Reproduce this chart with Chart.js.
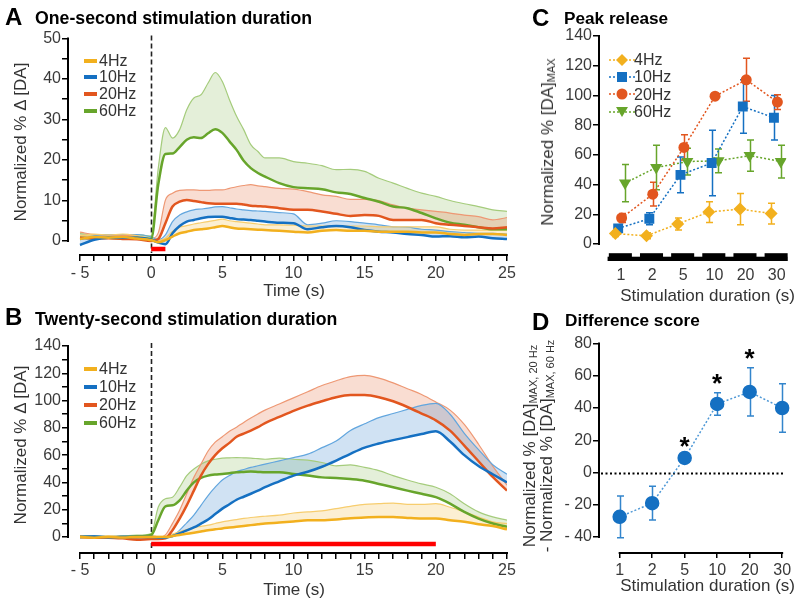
<!DOCTYPE html>
<html>
<head>
<meta charset="utf-8">
<title>Dopamine release and stimulation duration</title>
<script src="https://cdn.jsdelivr.net/npm/chart.js@4.4.1/dist/chart.umd.min.js"></script>
<style>
  body { margin: 0; background: #fff; }
  #fig { position: relative; width: 800px; height: 601px; overflow: hidden;
         font-family: "Liberation Sans", Arial, sans-serif; color: #333; }
  #fig canvas { position: absolute; }
  .txt { position: absolute; white-space: nowrap; line-height: 1; }
  .bold { font-weight: bold; color: #000; }
  .rot { transform: translate(-50%, -50%) rotate(-90deg); }
  .rot sub { font-size: 11px; vertical-align: -2px; }
</style>
</head>
<body>
<div id="fig">
  <canvas id="chartA" width="520" height="300" style="left:0;top:0"></canvas>
  <canvas id="chartB" width="520" height="301" style="left:0;top:300px"></canvas>
  <canvas id="chartC" width="280" height="300" style="left:520px;top:0"></canvas>
  <canvas id="chartD" width="280" height="301" style="left:520px;top:300px"></canvas>
</div>
<script>
// ---- data ----
const SERIES = ["4Hz", "10Hz", "20Hz", "60Hz"];
const TIME = [-5, -4, -3, -2, -1, 0, 0.5, 1, 1.5, 2, 2.5, 3, 3.5, 4, 4.5, 5, 5.5, 6, 6.5, 7, 7.5, 8,
  9, 10, 11, 12, 13, 14, 15, 16, 17, 18, 19, 20, 21, 22, 23, 24, 25];

// one-second stimulation: mean trace and upper SEM edge
const A_4HZ_MEAN = [0.5, 1.0, 0.8, 1.0, 0.6, 0.2, -0.3, 0.2, 1.1, 1.9, 2.3, 2.7, 2.9, 3.1, 3.4, 3.7, 3.4, 3.1, 3.0, 2.9, 2.8, 2.7,
  2.5, 2.3, 2.1, 2.5, 2.7, 2.5, 2.5, 2.3, 2.3, 2.3, 2.1, 2.1, 1.7, 1.5, 1.7, 1.7, 1.5];
const A_4HZ_UPPER = [1.3, 1.7, 1.5, 1.7, 1.3, 0.6, 0.2, 0.7, 2.4, 3.4, 3.8, 4.2, 4.5, 4.8, 5.1, 5.4, 5.0, 4.8, 4.6, 4.4, 4.2, 4.0,
  4.0, 3.9, 3.7, 3.7, 3.7, 3.7, 3.7, 3.5, 3.5, 3.5, 3.5, 3.5, 2.9, 2.7, 2.7, 2.7, 2.7];
const A_10HZ_MEAN = [-1.0, 0.3, 0.8, 0.8, 0.8, 0.3, -0.4, -0.8, 1.9, 3.7, 4.8, 5.2, 5.6, 5.9, 6.0, 6.0, 5.7, 5.4, 5.3, 5.2, 5.0, 4.8,
  4.5, 4.4, 2.9, 3.4, 3.7, 3.4, 2.7, 2.3, 2.1, 1.7, 1.5, 1.1, 1.2, 0.9, 1.1, 0.7, 0.5];
const A_10HZ_UPPER = [0.3, 1.3, 1.6, 1.6, 1.6, 1.0, 0.3, 1.5, 4.8, 6.4, 7.2, 7.7, 7.9, 8.1, 8.4, 8.5, 8.2, 7.9, 7.7, 7.5, 7.4, 7.3,
  7.0, 6.7, 4.0, 4.4, 5.0, 4.8, 4.4, 4.0, 3.5, 3.4, 2.9, 2.7, 2.3, 2.1, 1.9, 1.9, 1.7];
const A_20HZ_MEAN = [0.8, 0.6, 0.7, 0.5, 0.4, 0.0, 0.5, 4.4, 8.5, 9.7, 10.1, 9.9, 9.6, 9.3, 9.2, 9.2, 9.2, 9.2, 9.0, 8.7, 8.6, 8.5,
  8.1, 7.7, 7.7, 7.3, 6.7, 6.2, 6.4, 6.2, 5.2, 5.2, 5.2, 4.4, 4.0, 3.7, 3.4, 3.1, 3.4];
const A_20HZ_UPPER = [2.2, 1.6, 1.5, 1.4, 1.2, 0.6, 2.0, 10.1, 11.8, 12.5, 12.6, 12.6, 12.5, 12.5, 12.6, 12.6, 13.0, 13.4, 13.7, 13.9, 13.6, 13.4,
  13.0, 12.8, 12.2, 11.4, 11.0, 10.3, 10.3, 10.0, 8.9, 8.1, 7.7, 7.3, 6.9, 6.4, 6.0, 5.2, 5.8];
const A_60HZ_MEAN = [0.8, 0.7, 0.8, 0.6, 0.8, 0.5, 14.0, 21.5, 21.6, 23.2, 25.0, 25.6, 25.4, 26.6, 27.6, 26.7, 24.6, 22.5, 19.8, 18.0, 16.8, 15.9,
  14.3, 13.3, 13.0, 12.8, 12.0, 11.6, 10.6, 9.7, 8.5, 8.1, 6.9, 5.6, 4.5, 4.0, 3.4, 2.9, 2.9];
const A_60HZ_UPPER = [1.8, 1.5, 1.6, 1.4, 1.6, 1.2, 18.0, 28.0, 25.4, 27.5, 32.4, 35.3, 36.1, 39.0, 41.6, 39.4, 34.9, 30.8, 27.5, 23.8, 22.1, 20.5,
  20.5, 19.6, 19.2, 18.6, 17.6, 17.7, 17.2, 15.5, 14.3, 13.0, 11.8, 11.0, 10.0, 9.2, 8.5, 7.7, 7.3];

// twenty-second stimulation
const B_4HZ_MEAN = [0, -0.5, 0, -0.3, 0, 0, 0, 0, 0.7, 1.5, 2.3, 3.1, 4.0, 5.0, 5.6, 6.3, 6.9, 7.5, 8.1, 8.7, 9.3, 9.9,
  10.6, 11.4, 12.3, 12.3, 12.8, 13.8, 14.3, 14.7, 14.7, 14.0, 13.5, 13.5, 12.3, 11.1, 9.4, 8.0, 5.6];
const B_4HZ_UPPER = [0.8, 0.3, 0.8, 0.5, 0.8, 0.8, 0.5, 0.5, 2.2, 3.9, 5.5, 7.0, 7.8, 8.7, 9.9, 11.1, 12.0, 12.8, 13.6, 14.3, 14.8, 15.2,
  16.0, 17.6, 18.4, 19.1, 20.8, 22.5, 23.9, 24.4, 24.9, 23.9, 23.9, 24.4, 21.8, 18.4, 14.7, 11.1, 9.9];
const B_10HZ_MEAN = [0, 0.3, -0.3, 0, 0, 0, -0.5, -0.5, 0.7, 2.7, 4.8, 7.0, 9.8, 12.8, 16.8, 20.8, 24.0, 27.3, 29.5, 31.7, 34.0, 36.5,
  40.8, 45.0, 47.8, 51.5, 56.0, 61.0, 65.5, 68.5, 71.0, 73.2, 75.5, 77.5, 70.0, 60.0, 52.0, 46.0, 40.0];
const B_10HZ_UPPER = [0.8, 1.0, 0.5, 0.8, 0.8, 0.8, 0.3, 0.3, 1.0, 5.0, 10.4, 16.0, 23.2, 30.4, 36.5, 41.8, 45.0, 48.0, 49.5, 51.0, 52.2, 53.4,
  55.8, 58.2, 60.7, 65.5, 70.3, 78.0, 83.0, 87.5, 90.5, 93.5, 96.5, 98.0, 90.0, 76.0, 64.0, 53.0, 46.0];
const B_20HZ_MEAN = [0, -0.5, -0.5, -1.0, -2.0, -1.5, -1.5, -1.0, 5.0, 13.5, 23.2, 34.0, 45.0, 53.4, 60.0, 65.0, 69.0, 73.5, 75.8, 78.0, 80.5, 83.5,
  88.0, 92.5, 96.3, 99.5, 102.5, 104.0, 104.0, 102.5, 99.5, 95.3, 90.5, 85.5, 78.0, 67.0, 55.5, 44.0, 34.0];
const B_20HZ_UPPER = [0.5, 0, 0, -0.5, -1.0, -0.5, -0.5, 1.5, 10.0, 19.6, 31.7, 43.7, 53.4, 63.0, 69.5, 73.5, 77.5, 80.5, 84.0, 87.2, 90.2, 93.0,
  97.5, 102.0, 106.5, 111.0, 114.5, 117.5, 118.5, 116.5, 113.0, 108.7, 104.5, 99.0, 93.0, 82.5, 68.0, 52.0, 38.0];
const B_60HZ_MEAN = [0, 0, -0.3, 0, 0.5, 1.5, 12.3, 22.5, 23.2, 26.8, 34.0, 40.0, 43.3, 45.0, 45.8, 46.2, 46.8, 47.4, 47.7, 48.0, 47.7, 47.4,
  47.4, 46.2, 45.0, 43.7, 43.3, 42.5, 41.3, 38.9, 36.5, 34.0, 31.7, 29.2, 24.4, 18.4, 13.5, 9.9, 7.5];
const B_60HZ_UPPER = [0.8, 0.8, 0.5, 0.8, 1.3, 2.5, 22.0, 28.0, 29.2, 36.5, 45.0, 49.8, 53.4, 55.8, 57.0, 57.8, 58.0, 58.2, 58.0, 57.8, 57.4, 57.0,
  57.8, 57.0, 56.3, 54.6, 52.2, 52.9, 51.0, 48.6, 45.0, 41.8, 38.9, 36.5, 31.7, 24.4, 18.4, 14.7, 12.3];

const STIM_A = [0, 1];   // stimulation window (s)
const STIM_B = [0, 20];

// peak release by stimulation duration
const DURATIONS = ["1", "2", "5", "10", "20", "30"];
const C_4HZ = [7, 5.5, 13.5, 21.5, 23.5, 20.5];
const C_4HZ_ERR = [2, 2, 4, 7, 10.5, 7];
const C_10HZ = [10.5, 17, 46.5, 54.5, 92.5, 85];
const C_10HZ_ERR = [1.5, 4, 12, 22, 18, 15];
const C_20HZ = [17.5, 33.5, 65, 99.5, 110.5, 95.5];
const C_20HZ_ERR = [3, 8, 8.5, 1, 14.5, 5];
const C_60HZ = [41, 51.5, 55.5, 56, 59.5, 55.5];
const C_60HZ_ERR = [12.5, 15, 9, 8, 10.5, 11];

// difference score (20 Hz minus 60 Hz)
const D_DIFF = [-27.5, -19, 9, 42.5, 50, 40];
const D_ERR = [13, 10.5, 1.5, 7, 15, 15];
const D_SIG = [false, false, true, true, true, false];

// ---- styling ----
const FONT = "'Liberation Sans', Arial, sans-serif";
Chart.defaults.font.family = FONT;
Chart.defaults.font.size = 16;
Chart.defaults.color = "#3a3a3a";
Chart.defaults.animation = false;

const PALETTE = [
  { line: "#F2B01E", light: "#F7CD6E", fill: "rgba(242,176,30,0.2)" },
  { line: "#1570C2", light: "#62A6DE", fill: "rgba(21,112,194,0.2)" },
  { line: "#E2561F", light: "#EE9874", fill: "rgba(226,86,31,0.2)" },
  { line: "#67A52B", light: "#A5CC7C", fill: "rgba(103,165,43,0.18)" },
];
const MARKERS = ["rectRot", "rect", "circle", "triangle"];
const MARKER_R = [6.5, 7, 5.5, 7];
const JITTER = [-0.18, -0.09, 0.02, 0.13];

const fig = document.getElementById("fig");

function signed(v) {
  return v < 0 ? "- " + Math.abs(v) : String(v);
}

function pairs(xs, ys) {
  return xs.map((x, i) => ({ x: x, y: ys[i] }));
}

// axis lines, zero markers and the duration bars, drawn on the library's scales
const figureFrame = {
  id: "figureFrame",
  beforeDatasetsDraw(chart, args, o) {
    const { ctx, chartArea: a, scales: { x, y } } = chart;
    ctx.save();
    if (o.zeroDash) {
      const px = Math.round(x.getPixelForValue(0)) + 0.5;
      ctx.strokeStyle = "#222";
      ctx.lineWidth = 1.6;
      ctx.setLineDash([5, 3]);
      ctx.beginPath();
      ctx.moveTo(px, a.top - 3);
      ctx.lineTo(px, a.bottom - 2);
      ctx.stroke();
    }
    if (o.dottedZero) {
      const py = Math.round(y.getPixelForValue(0)) + 0.5;
      ctx.strokeStyle = "#000";
      ctx.lineWidth = 2;
      ctx.setLineDash([2, 2.5]);
      ctx.beginPath();
      ctx.moveTo(a.left + 2, py);
      ctx.lineTo(x.getPixelForValue(5) + 2, py);
      ctx.stroke();
    }
    ctx.restore();
  },
  afterDraw(chart, args, o) {
    const { ctx, chartArea: a, scales: { x, y } } = chart;
    ctx.save();
    ctx.strokeStyle = "#000";
    ctx.lineWidth = 2;
    ctx.beginPath();
    ctx.moveTo(a.left, y.getPixelForValue(o.yAxis[0]) + 1);
    ctx.lineTo(a.left, y.getPixelForValue(o.yAxis[1]) - 1);
    if (o.xAxis) {
      ctx.moveTo(x.getPixelForValue(o.xAxis[0]) - 1, a.bottom);
      ctx.lineTo(x.getPixelForValue(o.xAxis[1]) + 1, a.bottom);
    }
    ctx.stroke();
    if (o.bars) {
      const step = x.getPixelForValue(1) - x.getPixelForValue(0);
      const first = x.getPixelForValue(0), last = x.getPixelForValue(DURATIONS.length - 1);
      ctx.fillStyle = "#000";
      ctx.fillRect(first - step * 0.43, a.bottom + 4.7, last - first + step * 0.77, 4.3);
      DURATIONS.forEach((d, i) => {
        const px = x.getPixelForValue(i);
        ctx.fillRect(px - step * 0.39, a.bottom + 1.2, step * 0.74, 7.8);
      });
    }
    ctx.restore();
  },
};

const errorBars = {
  id: "errorBars",
  beforeDatasetsDraw(chart) {
    const { ctx, scales: { y } } = chart;
    chart.data.datasets.forEach((ds, i) => {
      if (!ds.errors) return;
      const meta = chart.getDatasetMeta(i);
      ctx.save();
      ctx.strokeStyle = ds.errorColor || ds.borderColor;
      ctx.lineWidth = 1.5;
      meta.data.forEach((pt, j) => {
        const v = ds.data[j].y, e = ds.errors[j];
        const top = y.getPixelForValue(v + e), bot = y.getPixelForValue(v - e);
        const px = Math.round(pt.x) + 0.5;
        ctx.beginPath();
        ctx.moveTo(px, top); ctx.lineTo(px, bot);
        ctx.moveTo(px - 3.5, top); ctx.lineTo(px + 3.5, top);
        ctx.moveTo(px - 3.5, bot); ctx.lineTo(px + 3.5, bot);
        ctx.stroke();
      });
      ctx.restore();
    });
  },
  afterDatasetsDraw(chart) {
    const { ctx, scales: { y } } = chart;
    chart.data.datasets.forEach((ds, i) => {
      if (!ds.stars) return;
      const meta = chart.getDatasetMeta(i);
      ctx.save();
      ctx.fillStyle = "#000";
      ctx.font = "bold 26px " + FONT;
      ctx.textAlign = "center";
      ctx.textBaseline = "alphabetic";
      meta.data.forEach((pt, j) => {
        if (!ds.stars[j]) return;
        ctx.fillText("*", pt.x, y.getPixelForValue(ds.data[j].y + ds.errors[j]) - 1);
      });
      ctx.restore();
    });
  },
};

function tickGrid(len) {
  return { drawOnChartArea: false, color: "#000", lineWidth: 1.5, tickLength: len };
}

function traceChart(id, means, uppers, stim, cfg) {
  const datasets = [];
  means.forEach((m, i) => {
    const c = PALETTE[i];
    datasets.push({ label: SERIES[i], data: pairs(TIME, m), borderColor: c.line, borderWidth: 2.5, order: 1 });
    datasets.push({ label: SERIES[i] + " SEM", data: pairs(TIME, uppers[i]), borderColor: c.light,
      borderWidth: 1.2, backgroundColor: c.fill, fill: "-1", order: 2 });
  });
  datasets.push({ label: "stimulation", data: [{ x: stim[0], y: cfg.stimY }, { x: stim[1], y: cfg.stimY }],
    borderColor: "#FF0000", borderWidth: 4.5, borderCapStyle: "butt", tension: 0,
    cubicInterpolationMode: "default", order: 0 });

  new Chart(document.getElementById(id), {
    type: "line",
    data: { datasets },
    options: {
      responsive: false,
      animation: false,
      layout: { padding: cfg.pad },
      elements: { point: { radius: 0 }, line: { cubicInterpolationMode: "monotone" } },
      plugins: {
        legend: { display: false },
        tooltip: { enabled: false },
        filler: { drawTime: "beforeDatasetsDraw" },
        figureFrame: { yAxis: [0, cfg.yMax], xAxis: [-5, 25], zeroDash: true },
      },
      scales: {
        x: {
          type: "linear", min: cfg.xMin, max: 25,
          afterFit: (s) => { s.height = 40; },
          border: { display: false },
          grid: tickGrid(6),
          ticks: { stepSize: 1, autoSkip: false, includeBounds: false, maxRotation: 0, padding: cfg.xPad,
            callback: (v) => (v % 5 === 0 ? signed(v) : "") },
        },
        y: {
          min: cfg.yMin, max: cfg.yMax,
          afterFit: (s) => { s.width = 40; },
          afterBuildTicks: (s) => { s.ticks = s.ticks.filter((t) => t.value >= 0); },
          border: { display: false },
          grid: tickGrid(6),
          ticks: { stepSize: cfg.yMinor, autoSkip: false, includeBounds: false, padding: 1,
            callback: (v) => (v % cfg.yMajor === 0 ? v : "") },
        },
      },
    },
    plugins: [figureFrame],
  });
}

traceChart("chartA",
  [A_4HZ_MEAN, A_10HZ_MEAN, A_20HZ_MEAN, A_60HZ_MEAN],
  [A_4HZ_UPPER, A_10HZ_UPPER, A_20HZ_UPPER, A_60HZ_UPPER],
  STIM_A,
  { pad: { left: 28, top: 38.5, right: 13, bottom: 5 }, xMin: -5.843, yMin: -3.46, yMax: 50,
    yMajor: 10, yMinor: 5, stimY: -2, xPad: 3 });

traceChart("chartB",
  [B_4HZ_MEAN, B_10HZ_MEAN, B_20HZ_MEAN, B_60HZ_MEAN],
  [B_4HZ_UPPER, B_10HZ_UPPER, B_20HZ_UPPER, B_60HZ_UPPER],
  STIM_B,
  { pad: { left: 28, top: 46, right: 13, bottom: 8 }, xMin: -5.843, yMin: -11.73, yMax: 140,
    yMajor: 20, yMinor: 10, stimY: -5.2, xPad: 2 });

// peak release
new Chart(document.getElementById("chartC"), {
  type: "line",
  data: {
    datasets: [C_4HZ, C_10HZ, C_20HZ, C_60HZ].map((vals, i) => ({
      label: SERIES[i],
      data: vals.map((v, j) => ({ x: j + JITTER[i], y: v })),
      errors: [C_4HZ_ERR, C_10HZ_ERR, C_20HZ_ERR, C_60HZ_ERR][i],
      borderColor: PALETTE[i].line,
      backgroundColor: PALETTE[i].line,
      borderWidth: 1.5,
      borderDash: [2, 2],
      pointStyle: MARKERS[i],
      pointRadius: MARKER_R[i],
      pointRotation: i === 3 ? 180 : 0,
      pointBorderWidth: 0,
      tension: 0,
    })),
  },
  options: {
    responsive: false,
    animation: false,
    layout: { padding: { left: 39, top: 36, right: 5, bottom: 8 } },
    plugins: {
      legend: { display: false },
      tooltip: { enabled: false },
      figureFrame: { yAxis: [0, 140], bars: true },
    },
    scales: {
      x: {
        type: "linear", min: -0.7055, max: 5.307,
        afterFit: (s) => { s.height = 40; },
        border: { display: false },
        grid: { display: false, drawTicks: false },
        ticks: { stepSize: 1, autoSkip: false, includeBounds: false, maxRotation: 0, padding: 14,
          callback: (v) => DURATIONS[v] ?? "" },
      },
      y: {
        min: -5.38, max: 140,
        afterFit: (s) => { s.width = 40; },
        afterBuildTicks: (s) => { s.ticks = s.ticks.filter((t) => t.value >= 0); },
        border: { display: false },
        grid: tickGrid(6),
        ticks: { stepSize: 20, autoSkip: false, includeBounds: false, padding: 1 },
      },
    },
  },
  plugins: [figureFrame, errorBars],
});

// difference score
new Chart(document.getElementById("chartD"), {
  type: "line",
  data: {
    datasets: [{
      label: "20 Hz - 60 Hz",
      data: D_DIFF.map((v, j) => ({ x: j, y: v })),
      errors: D_ERR,
      stars: D_SIG,
      errorColor: "#3385CC",
      borderColor: "#4E98D6",
      borderWidth: 1.5,
      borderDash: [2, 2],
      pointBackgroundColor: "#1570C2",
      pointBorderColor: "#1570C2",
      pointRadius: 6.5,
      tension: 0,
    }],
  },
  options: {
    responsive: false,
    animation: false,
    layout: { padding: { left: 39, top: 43.5, right: 5, bottom: 8 } },
    plugins: {
      legend: { display: false },
      tooltip: { enabled: false },
      figureFrame: { yAxis: [-40, 80], xAxis: [0, 5], dottedZero: true },
    },
    scales: {
      x: {
        type: "linear", min: -0.636, max: 5.303,
        afterFit: (s) => { s.height = 40; },
        border: { display: false },
        grid: tickGrid(5),
        ticks: { stepSize: 1, autoSkip: false, includeBounds: false, maxRotation: 0, padding: 3,
          callback: (v) => DURATIONS[v] ?? "" },
      },
      y: {
        min: -49.92, max: 80,
        afterFit: (s) => { s.width = 40; },
        afterBuildTicks: (s) => { s.ticks = s.ticks.filter((t) => t.value >= -40); },
        border: { display: false },
        grid: tickGrid(6),
        ticks: { stepSize: 20, autoSkip: false, includeBounds: false, padding: 1,
          callback: (v) => signed(v) },
      },
    },
  },
  plugins: [figureFrame, errorBars],
});

// ---- text ----
function addText(html, x, baseline, size, cls, align) {
  const el = document.createElement("div");
  el.className = "txt " + (cls || "");
  el.innerHTML = html;
  el.style.fontSize = size + "px";
  el.style.top = (baseline - 0.8465 * size) + "px";
  if (align === "right") {
    el.style.right = (800 - x) + "px";
  } else if (align === "center") {
    el.style.left = x + "px";
    el.style.transform = "translateX(-50%)";
  } else {
    el.style.left = x + "px";
  }
  fig.appendChild(el);
}

function addRotated(html, cx, cy, size) {
  const el = document.createElement("div");
  el.className = "txt rot";
  el.innerHTML = html;
  el.style.fontSize = size + "px";
  el.style.left = cx + "px";
  el.style.top = cy + "px";
  fig.appendChild(el);
}

function lineLegend(x, y0, step) {
  SERIES.forEach((name, i) => {
    const y = y0 + i * step;
    const sw = document.createElement("div");
    sw.style.cssText = `position:absolute;left:${x}px;top:${y - 2}px;width:13px;height:4px;background:${PALETTE[i].line}`;
    fig.appendChild(sw);
    addText(name, x + 15, y + 5.7, 16);
  });
}

function markerLegend(x, y0, step) {
  SERIES.forEach((name, i) => {
    const y = y0 + i * step;
    const c = PALETTE[i].line;
    const shape = [
      `<polygon points="13,1 19,7 13,13 7,7" fill="${c}"/>`,
      `<rect x="8" y="2" width="10" height="10" fill="${c}"/>`,
      `<circle cx="13" cy="7" r="5.5" fill="${c}"/>`,
      `<polygon points="7,2 19,2 13,12" fill="${c}"/>`,
    ][i];
    const holder = document.createElement("div");
    holder.innerHTML = `<svg width="26" height="14" style="position:absolute;left:${x}px;top:${y - 7}px">` +
      `<line x1="0" y1="7" x2="26" y2="7" stroke="${c}" stroke-width="1.5" stroke-dasharray="2,2"/>${shape}</svg>`;
    fig.appendChild(holder.firstChild);
    addText(name, x + 25, y + 5.7, 16);
  });
}

addText("A", 5, 25, 24, "bold");
addText("One-second stimulation duration", 35, 25, 17.7, "bold");
addText("B", 5, 325, 24, "bold");
addText("Twenty-second stimulation duration", 35, 326, 17.7, "bold");
addText("C", 532, 26, 24, "bold");
addText("Peak release", 564, 25, 17.2, "bold");
addText("D", 532, 330, 24, "bold");
addText("Difference score", 565, 327, 17.2, "bold");

addText("Time (s)", 294, 296, 17, "", "center");
addText("Time (s)", 294, 595, 17, "", "center");
addText("Stimulation duration (s)", 795, 301, 17, "", "right");
addText("Stimulation duration (s)", 795, 591, 17, "", "right");

addRotated("Normalized % Δ [DA]", 20, 142, 17);
addRotated("Normalized % Δ [DA]", 20, 445, 17);
addRotated("Normalized % [DA]<sub>MAX</sub>", 548, 142, 17);
addRotated("Normalized % [DA]<sub>MAX, 20 Hz</sub>", 530, 446, 17);
addRotated("- Normalized % [DA]<sub>MAX, 60 Hz</sub>", 547, 446, 17);

lineLegend(84, 60.7, 16.6);
lineLegend(84, 369, 18);
markerLegend(609, 60, 17.2);
</script>
</body>
</html>
